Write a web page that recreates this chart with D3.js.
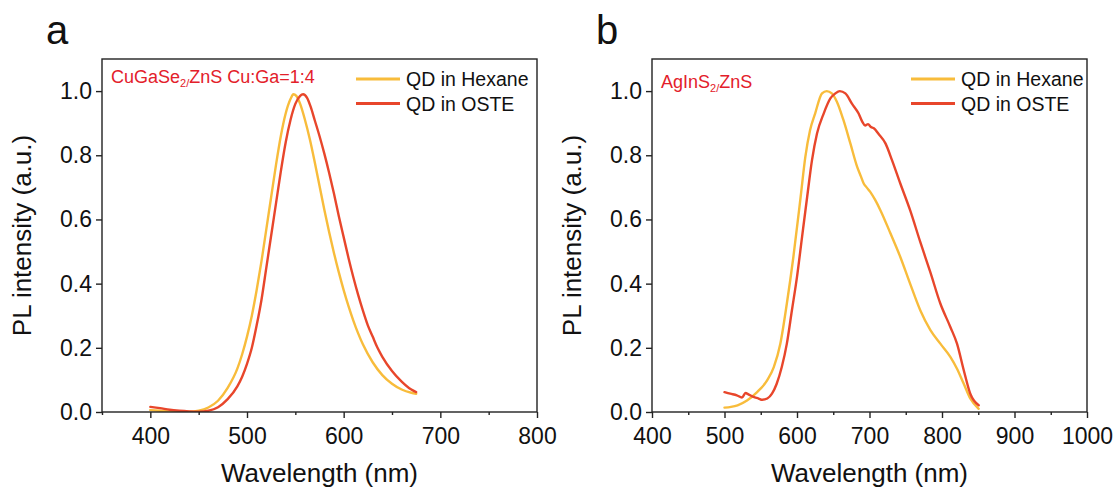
<!DOCTYPE html>
<html>
<head>
<meta charset="utf-8">
<script src="https://cdn.jsdelivr.net/npm/d3@7"></script>
<style>
  html, body { margin: 0; padding: 0; background: #fff; }
  svg { display: block; font-family: "Liberation Sans", Arial, Helvetica, sans-serif; }
</style>
</head>
<body>
<svg id="chart" width="1118" height="490"></svg>
<script>
// ---------- Data ----------
// Panel a: CuGaSe2/ZnS Cu:Ga=1:4
const aHexaneWl = [400,410,420,430,440,450,460,470,480,490,495,500,505,510,515,520,525,530,535,540,545,548,551,555,560,565,570,575,580,585,590,595,600,605,610,615,620,630,640,650,660,670,675];
const aHexaneI  = [0.006,0.004,0.002,0.001,0.001,0.004,0.014,0.035,0.075,0.135,0.18,0.235,0.30,0.38,0.47,0.57,0.67,0.77,0.86,0.93,0.975,0.99,0.985,0.96,0.91,0.85,0.78,0.705,0.63,0.56,0.495,0.435,0.38,0.33,0.285,0.245,0.21,0.155,0.115,0.088,0.07,0.06,0.057];
const aOsteWl = [400,410,420,430,440,450,460,470,480,490,495,500,505,510,515,520,525,530,535,540,545,550,555,558,562,566,570,575,580,585,590,595,600,605,610,615,620,625,630,635,640,650,660,670,675];
const aOsteI  = [0.016,0.012,0.007,0.004,0.002,0.001,0.004,0.015,0.04,0.08,0.11,0.15,0.20,0.27,0.35,0.45,0.55,0.65,0.75,0.84,0.91,0.96,0.985,0.99,0.98,0.95,0.91,0.86,0.805,0.745,0.68,0.61,0.545,0.48,0.42,0.365,0.315,0.27,0.235,0.20,0.172,0.128,0.095,0.07,0.062];

// Panel b: AgInS2/ZnS
const bHexaneWl = [500,509,518,531,545,559,568,577,586,595,605,611.5,618,625,634.5,641,648,655,664,673.6,683,688,692,696,701,708,715,729,742.5,756,770,784,797.7,811.5,820.7,830,839,850.6];
const bHexaneI  = [0.0135,0.016,0.021,0.036,0.062,0.099,0.14,0.213,0.338,0.483,0.67,0.795,0.878,0.93,0.993,1.0,0.993,0.967,0.91,0.837,0.764,0.735,0.712,0.70,0.686,0.66,0.629,0.556,0.483,0.40,0.317,0.255,0.213,0.172,0.135,0.088,0.042,0.01];
const bOsteWl = [500,508,517,524,529,533,540,547,552,559,565.5,572,579,586,593,600,607,614,620.7,627.6,636.8,646,653,659,666.7,676,685,690,694,698,702,706,712.6,722,731,742.5,756,770,784,797.7,811.5,820.7,830,839,850.6];
const bOsteI  = [0.062,0.057,0.052,0.045,0.059,0.055,0.047,0.042,0.038,0.042,0.057,0.088,0.14,0.213,0.317,0.421,0.546,0.67,0.785,0.868,0.93,0.977,0.993,1.0,0.993,0.96,0.93,0.905,0.893,0.897,0.888,0.884,0.866,0.837,0.785,0.712,0.629,0.53,0.435,0.338,0.265,0.213,0.13,0.057,0.021];

const aXDomain = [350, 800];
const bXDomain = [400, 1000];
const aXMajor = [400, 500, 600, 700, 800];
const aXMinor = [350, 450, 550, 650, 750];
const bXMajor = [400, 500, 600, 700, 800, 900, 1000];
const bXMinor = [450, 550, 650, 750, 850, 950];
const yDomain = [0, 1.1];
const yTicks = [0, 0.2, 0.4, 0.6, 0.8, 1.0];
const seriesNames = ["QD in Hexane", "QD in OSTE"];
const seriesColors = ["#F8BC3B", "#E8462B"];
const panelLetters = ["a", "b"];
const xTitle = "Wavelength (nm)";
const yTitle = "PL intensity (a.u.)";

// ---------- Layout ----------
const svg = d3.select("#chart");
const plotTop = 59, plotBottom = 412;
const panels = [
  { left: 102, right: 537, xDomain: aXDomain, major: aXMajor, minor: aXMinor, letter: panelLetters[0],
    series: [[aHexaneWl, aHexaneI], [aOsteWl, aOsteI]],
    label: { main: "CuGaSe", sub: "2/", rest: "ZnS Cu:Ga=1:4", y: 83 }, legendX: 356 },
  { left: 652, right: 1087, xDomain: bXDomain, major: bXMajor, minor: bXMinor, letter: panelLetters[1],
    series: [[bHexaneWl, bHexaneI], [bOsteWl, bOsteI]],
    label: { main: "AgInS", sub: "2/", rest: "ZnS", y: 88 }, legendX: 911 }
];

const y = d3.scaleLinear().domain(yDomain).range([plotBottom, plotTop]);

panels.forEach(p => {
  const x = d3.scaleLinear().domain(p.xDomain).range([p.left, p.right]);
  const g = svg.append("g");

  const clipId = "clip-" + p.letter;
  svg.append("clipPath").attr("id", clipId).append("rect")
    .attr("x", p.left).attr("y", plotTop).attr("width", p.right - p.left).attr("height", plotBottom - plotTop);
  const line = d3.line().x(d => x(d[0])).y(d => y(d[1])).curve(d3.curveMonotoneX);
  p.series.forEach((s, i) => {
    const pts = s[0].map((w, k) => [w, s[1][k]]);
    g.append("path").datum(pts)
      .attr("clip-path", `url(#${clipId})`)
      .attr("fill", "none").attr("stroke", seriesColors[i])
      .attr("stroke-width", 2.4).attr("stroke-linejoin", "round").attr("stroke-linecap", "round")
      .attr("d", line);
  });

  g.append("rect").attr("x", p.left).attr("y", plotTop)
    .attr("width", p.right - p.left).attr("height", plotBottom - plotTop)
    .attr("fill", "none").attr("stroke", "#222").attr("stroke-width", 1.4);

  const xAx = g.append("g").attr("transform", `translate(0,${plotBottom})`)
    .call(d3.axisBottom(x).tickValues(p.major).tickSize(6).tickSizeOuter(0).tickPadding(10).tickFormat(d3.format("d")));
  xAx.select(".domain").remove();
  xAx.selectAll(".tick line").attr("stroke", "#222").attr("stroke-width", 1.4);
  xAx.selectAll(".tick text").attr("font-size", 23).attr("fill", "#111")
    .attr("font-family", "Liberation Sans, Arial, sans-serif");
  const xMin = g.append("g").attr("transform", `translate(0,${plotBottom})`)
    .call(d3.axisBottom(x).tickValues(p.minor).tickSize(3).tickSizeOuter(0).tickFormat(""));
  xMin.select(".domain").remove();
  xMin.selectAll(".tick line").attr("stroke", "#222").attr("stroke-width", 1.4);

  const yAx = g.append("g").attr("transform", `translate(${p.left},0)`)
    .call(d3.axisLeft(y).tickValues(yTicks).tickSize(6).tickSizeOuter(0).tickPadding(4).tickFormat(d3.format(".1f")));
  yAx.select(".domain").remove();
  yAx.selectAll(".tick line").attr("stroke", "#222").attr("stroke-width", 1.4);
  yAx.selectAll(".tick text").attr("font-size", 23).attr("fill", "#111")
    .attr("font-family", "Liberation Sans, Arial, sans-serif");

  g.append("text").attr("x", (p.left + p.right) / 2).attr("y", 482)
    .attr("text-anchor", "middle").attr("font-size", 26).attr("fill", "#111").text(xTitle);
  g.append("text").attr("transform", `translate(${p.left - 71},${(plotTop + plotBottom) / 2}) rotate(-90)`)
    .attr("text-anchor", "middle").attr("font-size", 26).attr("fill", "#111").text(yTitle);

  g.append("text").attr("x", p.left - 56).attr("y", 44)
    .attr("font-size", 40).attr("fill", "#111").text(p.letter);

  const lab = g.append("text").attr("x", p.left + 9).attr("y", p.label.y)
    .attr("font-size", 18).attr("fill", "#E3202A");
  lab.append("tspan").text(p.label.main);
  lab.append("tspan").attr("font-size", 11).attr("dy", 4).text(p.label.sub);
  lab.append("tspan").attr("dy", -4).text(p.label.rest);

  seriesNames.forEach((name, i) => {
    const ly = 79 + i * 24.5;
    g.append("line").attr("x1", p.legendX).attr("x2", p.legendX + 44)
      .attr("y1", ly).attr("y2", ly).attr("stroke", seriesColors[i]).attr("stroke-width", 2.8);
    g.append("text").attr("x", p.legendX + 50).attr("y", ly + 7)
      .attr("font-size", 19.5).attr("fill", "#111").text(name);
  });
});
</script>
</body>
</html>
